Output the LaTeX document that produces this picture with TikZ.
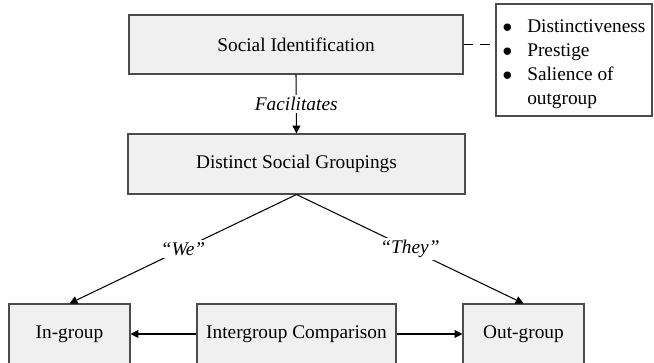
\documentclass[tikz,border=0pt]{standalone}
\usepackage{fontspec}
\setmainfont{Liberation Serif}
\usetikzlibrary{arrows.meta}

\tikzset{
  box/.style={draw=black!70, fill=black!6, line width=0.6pt, align=center,
    inner sep=0pt, font=\fontsize{11}{13.6}\selectfont},
  conn/.style={line width=0.6pt, -{Triangle[length=4.5pt,width=4.5pt]}},
  lbl/.style={fill=white, inner sep=1.5pt, font=\fontsize{11}{13.6}\selectfont\itshape}
}

\begin{document}
\begin{tikzpicture}
  \useasboundingbox (0,0) rectangle (13.08,7.24);
  \clip (0,0) rectangle (13.08,7.24);
  % top row
  \node[box, minimum width=6.68cm, minimum height=1.18cm] (sid) at (5.92,6.35) {Social Identification};
  \node[box, fill=white, minimum width=3.12cm, minimum height=2.24cm] (fac) at (11.48,6.04) {%
    \raisebox{-0.08cm}[\height][\depth]{%
    \begin{tabular}{@{}l@{\hspace{0.3cm}}l@{}}
      $\bullet$ & Distinctiveness\\
      $\bullet$ & Prestige\\
      $\bullet$ & Salience of\\
                & outgroup
    \end{tabular}}};
  % middle
  \node[box, minimum width=6.74cm, minimum height=1.2cm] (dsg) at (5.93,3.96) {Distinct Social Groupings};
  % bottom row
  \node[box, minimum width=2.42cm, minimum height=1.2cm] (ing) at (1.39,0.56) {In-group};
  \node[box, minimum width=3.98cm, minimum height=1.2cm] (igc) at (5.93,0.56) {Intergroup Comparison};
  \node[box, minimum width=2.42cm, minimum height=1.2cm] (outg) at (10.47,0.56) {Out-group};
  % connectors
  \draw[line width=0.6pt, dash pattern=on 5.5pt off 4pt] (sid.east) -- (sid.east -| fac.west);
  \draw[conn] (sid.south) -- node[lbl] {Facilitates} (dsg.north);
  \draw[conn] (dsg.south) -- node[lbl] {``We''} (ing.north);
  \draw[conn] (dsg.south) -- node[lbl] {``They''} (outg.north);
  \draw[conn] (igc.west) -- (ing.east);
  \draw[conn] (igc.east) -- (outg.west);
\end{tikzpicture}
\end{document}
